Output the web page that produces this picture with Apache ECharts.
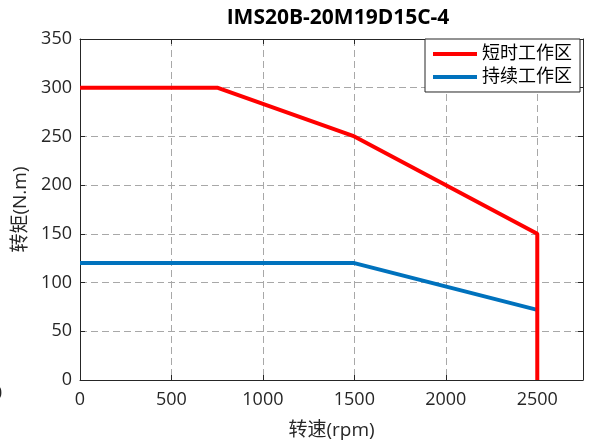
<!DOCTYPE html>
<html>
<head>
<meta charset="utf-8">
<script src="https://cdn.jsdelivr.net/npm/echarts@6/dist/echarts.min.js"></script>
<style>
html, body {margin:0; padding:0; background:#fff;}
#main {width:592px; height:444px;}
</style>
</head>
<body>
<div id="main"></div>
<script>
var chartTitle = 'IMS20B-20M19D15C-4';
var seriesNames = ['短时工作区', '持续工作区'];
var shortTermData = [[0, 300], [750, 300], [1500, 250], [2500, 150], [2500, 0]];
var continuousData = [[0, 120], [1500, 120], [2500, 72]];
var xName = '转速(rpm)';
var yName = '转矩(N.m)';

var fontFamily = '"Open Sans", "Noto Sans CJK SC", sans-serif';
var labelStyle = {color: '#262626', fontSize: 18, fontFamily: fontFamily};
var nameStyle  = {color: '#262626', fontSize: 19, fontFamily: fontFamily};
var gridLine   = {show: true, lineStyle: {color: '#a8a8a8', type: [7, 4], width: 1}};
var axisLine   = {show: true, onZero: false, lineStyle: {color: '#262626', width: 1}};

var chart  = echarts.init(document.getElementById('main'));
var option = {
    animation: false,
    backgroundColor: '#fff',
    title: {
        text: chartTitle,
        left: 333,
        textAlign: 'center',
        top: 3,
        textStyle: {color: '#000', fontSize: 21, fontWeight: 'bold', fontFamily: fontFamily}
    },
    legend: {
        right: 12,
        top: 39,
        orient: 'vertical',
        backgroundColor: '#fff',
        borderColor: '#262626',
        borderWidth: 1,
        borderRadius: 0,
        padding: [6, 8, 6, 8],
        itemGap: 5,
        itemWidth: 44,
        itemHeight: 4,
        icon: 'rect',
        textStyle: {color: '#000', fontSize: 18, fontFamily: fontFamily},
        data: seriesNames
    },
    grid: {left: 80, right: 9, top: 39, bottom: 64, outerBoundsMode: 'none'},
    xAxis: [
        {
            type: 'value',
            min: 0,
            max: 2750,
            interval: 500,
            name: xName,
            nameLocation: 'middle',
            nameGap: 41,
            nameTextStyle: nameStyle,
            axisLine: axisLine,
            axisTick: {show: true, inside: true, length: 5},
            axisLabel: Object.assign({margin: 11, showMaxLabel: false, formatter: function(v) { return String(v); }}, labelStyle),
            splitLine: gridLine
        },
        {
            type: 'value',
            position: 'top',
            min: 0,
            max: 2750,
            interval: 500,
            axisLine: axisLine,
            axisTick: {show: true, inside: true, length: 5},
            axisLabel: {show: false},
            splitLine: {show: false}
        }
    ],
    yAxis: [
        {
            type: 'value',
            min: 0,
            max: 350,
            interval: 50,
            name: yName,
            nameLocation: 'middle',
            nameGap: 47,
            nameTextStyle: nameStyle,
            axisLine: axisLine,
            axisTick: {show: true, inside: true, length: 5},
            axisLabel: Object.assign({margin: 8}, labelStyle),
            splitLine: gridLine
        },
        {
            type: 'value',
            position: 'right',
            min: 0,
            max: 350,
            interval: 50,
            axisLine: axisLine,
            axisTick: {show: true, inside: true, length: 5},
            axisLabel: {show: false},
            splitLine: {show: false}
        }
    ],
    graphic: [
        {
            type: 'text',
            left: -8,
            top: 385,
            style: {text: '0', fill: '#262626', font: '18px ' + fontFamily}
        }
    ],
    series: [
        {
            name: seriesNames[0],
            type: 'line',
            data: shortTermData,
            showSymbol: false,
            lineStyle: {color: '#ff0000', width: 4},
            itemStyle: {color: '#ff0000'},
            z: 3
        },
        {
            name: seriesNames[1],
            type: 'line',
            data: continuousData,
            showSymbol: false,
            lineStyle: {color: '#0072bd', width: 4},
            itemStyle: {color: '#0072bd'},
            z: 2
        }
    ]
};
chart.setOption(option);
</script>
</body>
</html>
